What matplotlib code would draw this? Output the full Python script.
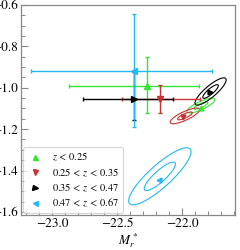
import numpy as np
import matplotlib
matplotlib.use("Agg")
import matplotlib.pyplot as plt
from matplotlib.ticker import MultipleLocator

plt.rcParams['font.family'] = ['STIXGeneral', 'DejaVu Sans']
plt.rcParams['mathtext.fontset'] = 'stix'

# ---- data ----
labels = [r"$z\, <\, 0.25$", r"$0.25\, <\, z\, <\, 0.35$", r"$0.35\, <\, z\, <\, 0.47$", r"$0.47\, <\, z\, <\, 0.67$"]
colors = ["#33e633", "#c83232", "#000000", "#22b8f0"]
markers = ["^", "v", ">", "<"]

# points with error bars
pt_x = [-22.269, -22.169, -22.369, -22.369]
pt_y = [-0.991, -1.054, -1.054, -0.919]
x_low = [-22.869, -22.462, -22.762, -23.162]
x_high = [-21.869, -21.862, -22.069, -21.769]
y_low = [-1.122, -1.122, -1.156, -1.189]
y_high = [-0.851, -0.986, -0.924, -0.643]

# best-fit points inside contours
fit_x = [-21.854, -21.992, -21.785, -22.177]
fit_y = [-1.098, -1.141, -1.020, -1.445]
# gaussian contour parameters
con_cx = [-21.854, -21.977, -21.780, -22.170]
con_cy = [-1.086, -1.136, -1.018, -1.428]
con_sx = [0.054, 0.057, 0.060, 0.120]
con_sy = [0.018, 0.019, 0.033, 0.069]
con_rho = [0.80, 0.80, 0.85, 0.86]

fig = plt.figure(figsize=(2.4, 2.5), dpi=100)
ax = fig.add_axes([21/240, 1-215/250, (235-21)/240, (215-5)/250])

gx = np.linspace(-23.3, -21.5, 400)
gy = np.linspace(-1.7, -0.5, 400)
GX, GY = np.meshgrid(gx, gy)

handles = []
for i in range(4):
    xe = [[pt_x[i] - x_low[i]], [x_high[i] - pt_x[i]]]
    ye = [[pt_y[i] - y_low[i]], [y_high[i] - pt_y[i]]]
    ax.errorbar([pt_x[i]], [pt_y[i]], xerr=xe, yerr=ye, fmt='none',
                ecolor=colors[i], elinewidth=1.0, capsize=1.5, capthick=1.0, zorder=3)
    h, = ax.plot([pt_x[i]], [pt_y[i]], linestyle='none', marker=markers[i],
                 color=colors[i], markersize=4, zorder=4)
    handles.append(h)
    # contours
    dx = (GX - con_cx[i]) / con_sx[i]
    dy = (GY - con_cy[i]) / con_sy[i]
    r = con_rho[i]
    m2 = (dx**2 - 2*r*dx*dy + dy**2) / (1 - r**2)
    ax.contour(GX, GY, m2, levels=[1.0, 4.0], colors=[colors[i]], linewidths=0.8, zorder=2)
    ax.plot([fit_x[i]], [fit_y[i]], linestyle='none', marker=markers[i],
            color=colors[i], markersize=3.5, zorder=4)

ax.set_xlim(-23.238, -21.592)
ax.set_ylim(-1.615, -0.6)
ax.xaxis.set_major_locator(MultipleLocator(0.5))
ax.xaxis.set_minor_locator(MultipleLocator(0.1))
ax.yaxis.set_major_locator(MultipleLocator(0.2))
ax.yaxis.set_minor_locator(MultipleLocator(0.05))
ax.tick_params(which='both', direction='in', colors='#888888', labelcolor='black',
               labelsize=9.5, top=False, right=False, pad=2)
ax.tick_params(which='major', length=5, width=0.8)
ax.tick_params(which='minor', length=3, width=0.7)
for s in ax.spines.values():
    s.set_color('#888888')
    s.set_linewidth(0.9)

ax.set_xlabel(r"$M_r^*$", fontsize=9.5, labelpad=1)

leg = ax.legend(handles, labels, loc='lower left', fontsize=7.5, numpoints=1,
                frameon=True, borderpad=0.4, labelspacing=0.3, handletextpad=0.8,
                handlelength=1.6, borderaxespad=0.15, markerscale=0.9)
leg.get_frame().set_edgecolor('#cccccc')
leg.get_frame().set_linewidth(0.8)

fig.savefig("out.png", dpi=100)
